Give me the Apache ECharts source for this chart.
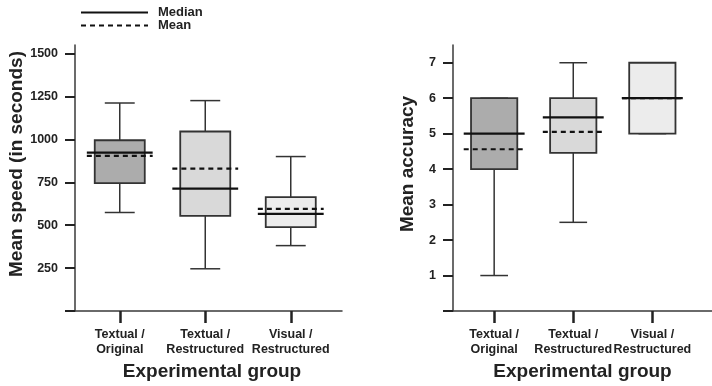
<!DOCTYPE html>
<html>
<head>
<meta charset="utf-8">
<script src="https://cdn.jsdelivr.net/npm/echarts@6/dist/echarts.min.js"></script>
<style>
html, body { margin: 0; padding: 0; background: #fff; }
#main { width: 712px; height: 386px; }
</style>
</head>
<body>
<div id="main"></div>
<script>
// groups
var groups = ['Textual /\nOriginal', 'Textual /\nRestructured', 'Visual /\nRestructured'];
var groupFill = ['#acacac', '#d9d9d9', '#ececec'];

// left: mean speed (in seconds)
var speedLow = [574, 246, 381];
var speedQ1 = [745, 554, 489];
var speedMedian = [923, 713, 566];
var speedQ3 = [995, 1046, 663];
var speedHigh = [1212, 1226, 900];
var speedMean = [904, 830, 595];
var speedTicks = [250, 500, 750, 1000, 1250, 1500];

// right: mean accuracy
var accLow = [1.0, 2.5, 5.0];
var accQ1 = [4.0, 4.46, 5.0];
var accMedian = [5.0, 5.46, 6.0];
var accQ3 = [6.0, 6.0, 7.0];
var accHigh = [6.0, 7.0, 7.0];
var accMean = [4.56, 5.05, 6.0];
var accTicks = [1, 2, 3, 4, 5, 6, 7];

var groupPos = [1, 2, 3];
var fontFam = '"Liberation Sans", Arial, Helvetica, sans-serif';
var axisColor = '#3a3a3a';
var textColor = '#222';

function buildRows(low, q1, med, q3, high, mean) {
    var rows = [];
    for (var i = 0; i < groupPos.length; i++) {
        rows.push([groupPos[i], low[i], q1[i], med[i], q3[i], high[i], mean[i], i]);
    }
    return rows;
}

// 箱线图 custom draw
function renderBox(params, api) {
    var x = api.value(0);
    var low = api.coord([x, api.value(1)]);
    var q1 = api.coord([x, api.value(2)]);
    var med = api.coord([x, api.value(3)]);
    var q3 = api.coord([x, api.value(4)]);
    var high = api.coord([x, api.value(5)]);
    var mean = api.coord([x, api.value(6)]);
    var unit = api.size([1, 0])[0];
    var cx = med[0];
    var boxW = unit * 0.585;
    var capW = unit * 0.35;
    var lineW = unit * 0.77;
    var wStyle = { stroke: '#333', lineWidth: 1.5 };
    return {
        type: 'group',
        children: [
            { type: 'line', shape: { x1: cx, y1: high[1], x2: cx, y2: q3[1] }, style: wStyle },
            { type: 'line', shape: { x1: cx, y1: q1[1], x2: cx, y2: low[1] }, style: wStyle },
            { type: 'line', shape: { x1: cx - capW / 2, y1: high[1], x2: cx + capW / 2, y2: high[1] }, style: wStyle },
            { type: 'line', shape: { x1: cx - capW / 2, y1: low[1], x2: cx + capW / 2, y2: low[1] }, style: wStyle },
            {
                type: 'rect',
                shape: { x: cx - boxW / 2, y: q3[1], width: boxW, height: q1[1] - q3[1] },
                style: { fill: groupFill[api.value(7)], stroke: '#333', lineWidth: 1.8 }
            },
            {
                type: 'line',
                shape: { x1: cx - lineW / 2, y1: mean[1], x2: cx + lineW / 2, y2: mean[1] },
                style: { stroke: '#111', lineWidth: 2.2, lineDash: [5, 4] }
            },
            {
                type: 'line',
                shape: { x1: cx - lineW / 2, y1: med[1], x2: cx + lineW / 2, y2: med[1] },
                style: { stroke: '#111', lineWidth: 2.2 }
            }
        ]
    };
}

function xAxisOpt(gridIndex, min, max, namePad) {
    return {
        type: 'value', gridIndex: gridIndex, min: min, max: max,
        splitLine: { show: false },
        axisLine: { show: true, lineStyle: { color: axisColor, width: 1.5 } },
        axisTick: { show: true, customValues: groupPos, length: 12, lineStyle: { color: '#222', width: 2.5 } },
        axisLabel: {
            customValues: groupPos, margin: 16, color: textColor, fontFamily: fontFam,
            fontSize: 12.5, fontWeight: 'bold', lineHeight: 15,
            formatter: function (v) { return groups[Math.round(v) - 1]; }
        },
        name: 'Experimental group', nameLocation: 'middle', nameGap: 51,
        nameTextStyle: { color: textColor, fontFamily: fontFam, fontSize: 19, fontWeight: 'bold', padding: namePad }
    };
}

function yAxisOpt(gridIndex, max, ticks, labels, name, gap) {
    return {
        type: 'value', gridIndex: gridIndex, min: 0, max: max,
        splitLine: { show: false },
        axisLine: { show: true, lineStyle: { color: axisColor, width: 1.5 } },
        axisTick: { show: true, customValues: ticks, length: 10, lineStyle: { color: '#222', width: 2 } },
        axisLabel: {
            customValues: labels, margin: 17, color: textColor, fontFamily: fontFam,
            fontSize: 12.5, fontWeight: 'bold',
            formatter: function (v) { return String(v); }
        },
        name: name, nameLocation: 'middle', nameGap: gap,
        nameTextStyle: { color: textColor, fontFamily: fontFam, fontSize: 19, fontWeight: 'bold', padding: [0, 0, 0, 28] }
    };
}

var chart = echarts.init(document.getElementById('main'), null, { renderer: 'canvas' });

var option = {
    animation: false,
    backgroundColor: '#fff',
    legend: {
        orient: 'vertical', left: 75, top: 1, itemWidth: 67, itemHeight: 14, itemGap: 0,
        data: ['Median', 'Mean'],
        itemStyle: { opacity: 0 },
        textStyle: { color: textColor, fontFamily: fontFam, fontSize: 13, fontWeight: 'bold', padding: [0, 0, 0, 5] }
    },
    grid: [
        { left: 75, top: 45, width: 267, height: 268 },
        { left: 453, top: 45, width: 280, height: 268 }
    ],
    xAxis: [
        xAxisOpt(0, 0.4766, 3.5994, [0, 0, 0, 7]),
        xAxisOpt(1, 0.4795, 3.7543, 0)
    ],
    yAxis: [
        yAxisOpt(0, 1550, [0].concat(speedTicks), speedTicks, 'Mean speed (in seconds)', 47),
        yAxisOpt(1, 7.5, [0].concat(accTicks), accTicks, 'Mean accuracy', 36)
    ],
    series: [
        {
            type: 'custom', xAxisIndex: 0, yAxisIndex: 0, renderItem: renderBox,
            data: buildRows(speedLow, speedQ1, speedMedian, speedQ3, speedHigh, speedMean)
        },
        {
            type: 'custom', xAxisIndex: 1, yAxisIndex: 1, renderItem: renderBox,
            data: buildRows(accLow, accQ1, accMedian, accQ3, accHigh, accMean)
        },
        // legend only
        { name: 'Median', type: 'line', xAxisIndex: 0, yAxisIndex: 0, data: [], symbol: 'none',
          lineStyle: { color: '#111', width: 2 }, itemStyle: { color: '#111' } },
        { name: 'Mean', type: 'line', xAxisIndex: 0, yAxisIndex: 0, data: [], symbol: 'none',
          lineStyle: { color: '#111', width: 2, type: [5, 4] }, itemStyle: { color: '#111' } }
    ]
};

chart.setOption(option);
</script>
</body>
</html>
